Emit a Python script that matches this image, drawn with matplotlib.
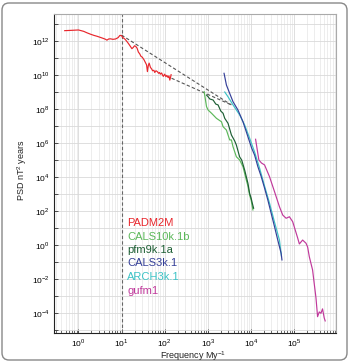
import matplotlib
matplotlib.use('Agg')
import matplotlib.pyplot as plt
import numpy as np
from matplotlib.patches import FancyBboxPatch
from matplotlib.ticker import FixedLocator, NullFormatter

plt.rcParams['font.family'] = ['Liberation Sans', 'DejaVu Sans']
plt.rcParams['mathtext.fontset'] = 'custom'
plt.rcParams['mathtext.rm'] = 'Liberation Sans'

# values as log10(frequency), log10(PSD)
padm_lx = [-0.32, -0.15, 0.0, 0.12, 0.2, 0.28, 0.36, 0.43, 0.5, 0.58, 0.63, 0.66, 0.70, 0.74,
           0.80, 0.86, 0.92, 0.96, 1.0, 1.02, 1.06, 1.09, 1.13, 1.16, 1.20, 1.24, 1.27, 1.30,
           1.33, 1.36, 1.39, 1.42, 1.45, 1.48, 1.52, 1.55, 1.58, 1.60, 1.62, 1.64, 1.67, 1.70,
           1.72, 1.75, 1.77, 1.80, 1.83, 1.86, 1.88, 1.90, 1.93, 1.95, 1.97, 2.00, 2.03, 2.05,
           2.08, 2.10, 2.12, 2.14, 2.15]
padm_ly = [12.61, 12.63, 12.65, 12.57, 12.48, 12.40, 12.33, 12.28, 12.22, 12.15, 12.10, 12.05,
           12.12, 12.13, 12.10, 12.12, 12.20, 12.33, 12.32, 12.22, 12.15, 12.08, 11.95, 11.85,
           11.70, 11.55, 11.62, 11.72, 11.68, 11.58, 11.35, 11.25, 11.10, 11.05, 10.90, 10.75,
           10.60, 10.20, 10.55, 10.70, 10.45, 10.35, 10.25, 10.28, 10.15, 10.25, 10.20, 10.10,
           10.15, 10.05, 10.12, 10.00, 9.92, 10.05, 9.90, 9.98, 9.85, 9.95, 9.70, 9.90, 10.02]

cals10k_lx = [2.917, 2.972, 3.009, 3.088, 3.203, 3.319, 3.356, 3.434, 3.510, 3.550, 3.587,
              3.665, 3.741, 3.818, 3.896, 3.933, 3.972, 4.007, 4.049]
cals10k_ly = [9.02, 8.14, 7.94, 7.75, 7.45, 7.25, 6.96, 6.76, 6.18, 6.18, 5.78,
              5.19, 5.00, 4.61, 3.82, 3.47, 2.94, 2.65, 2.06]

pfm9k_lx = [2.972, 3.009, 3.048, 3.125, 3.187, 3.240, 3.303, 3.356, 3.395, 3.471, 3.550,
            3.626, 3.665, 3.741, 3.788, 3.857, 3.933, 3.972, 4.007, 4.035, 4.065]
pfm9k_ly = [8.82, 8.72, 8.59, 8.53, 8.29, 8.24, 7.88, 7.75, 7.45, 7.16, 6.47,
            6.12, 5.88, 5.18, 5.00, 4.41, 3.63, 3.04, 2.76, 2.45, 2.16]

cals3k_lx = [3.379, 3.434, 3.510, 3.587, 3.702, 3.818, 3.933, 4.018, 4.088, 4.164, 4.242,
             4.319, 4.395, 4.473, 4.550, 4.626, 4.704, 4.723]
cals3k_ly = [10.10, 9.41, 8.92, 8.43, 7.94, 7.25, 6.37, 5.71, 5.29, 4.61, 4.02,
             3.35, 2.65, 1.86, 1.08, 0.29, -0.49, -0.88]

arch3k_lx = [3.395, 3.471, 3.587, 3.741, 3.857, 3.972, 4.088, 4.203, 4.319, 4.434, 4.550,
             4.665, 4.711]
arch3k_ly = [9.0, 8.72, 8.24, 7.65, 7.06, 6.29, 5.47, 4.53, 3.47, 2.47, 1.35, 0.29, -0.65]

gufm_lx = [4.111, 4.187, 4.249, 4.319, 4.434, 4.550, 4.665, 4.741, 4.820, 4.896, 4.972,
           5.088, 5.127, 5.203, 5.282, 5.319, 5.358, 5.434, 5.473, 5.513, 5.550, 5.589,
           5.628, 5.665, 5.704, 5.727]
gufm_ly = [6.22, 5.0, 4.82, 4.71, 4.02, 3.14, 2.25, 1.76, 1.57, 1.66, 1.37,
           0.41, 0.06, 0.29, 0.10, -0.12, -0.69, -1.47, -2.29, -3.12, -4.22, -3.94,
           -4.02, -3.76, -4.29, -4.47]

# dashed reference lines (log10 endpoints)
upper_lx = [1.0, 3.55]
upper_ly = [12.35, 8.24]
lower_lx = [2.16, 3.55]
lower_ly = [9.81, 8.24]
cut_freq = 10

x_decades = [0, 1, 2, 3, 4, 5]
y_decades = list(range(-5, 14))

series = [
    ('PADM2M', padm_lx, padm_ly, '#e8262c'),
    ('CALS10k.1b', cals10k_lx, cals10k_ly, '#5cb85a'),
    ('pfm9k.1a', pfm9k_lx, pfm9k_ly, '#1d5e34'),
    ('ARCH3k.1', arch3k_lx, arch3k_ly, '#3cc3c6'),
    ('CALS3k.1', cals3k_lx, cals3k_ly, '#343f98'),
    ('gufm1', gufm_lx, gufm_ly, '#c0399b'),
]
legend_order = ['PADM2M', 'CALS10k.1b', 'pfm9k.1a', 'CALS3k.1', 'ARCH3k.1', 'gufm1']
colors = {name: c for name, _, _, c in series}

fig = plt.figure(figsize=(3.53, 3.62), dpi=100)
ax = fig.add_axes([54 / 353, 29 / 362, 282 / 353, 319 / 362])

ax.axvline(cut_freq, color='#666666', linestyle='--', linewidth=0.8, dashes=(3, 2))
for lx, ly in [(upper_lx, upper_ly), (lower_lx, lower_ly)]:
    ax.plot(10 ** np.array(lx), 10 ** np.array(ly), color='#555555', linestyle='--',
            linewidth=0.8, dashes=(3, 2))

for name, lx, ly, c in series:
    ax.plot(10 ** np.array(lx), 10 ** np.array(ly), color=c, linewidth=0.85)

ax.set_xscale('log')
ax.set_yscale('log')
ax.set_xlim(0.27, 9.5e5)
ax.set_ylim(10 ** -5.18, 10 ** 13.59)

# explicit ticks
ax.set_xticks([10.0 ** e for e in x_decades])
ax.set_xticklabels([r'$10^{%d}$' % e for e in x_decades])
minor_x = [m * 10.0 ** e for e in range(-1, 6) for m in range(2, 10)]
ax.xaxis.set_minor_locator(FixedLocator(minor_x))
ax.xaxis.set_minor_formatter(NullFormatter())
ax.set_yticks([10.0 ** e for e in y_decades])
ax.set_yticklabels([r'$10^{%d}$' % e if e % 2 == 0 else '' for e in y_decades])
ax.yaxis.set_minor_locator(FixedLocator([]))
ax.set_xlim(0.27, 9.5e5)
ax.set_ylim(10 ** -5.18, 10 ** 13.59)

ax.tick_params(axis='both', which='both', direction='in', labelsize=6, color='#333333')
ax.tick_params(axis='both', which='major', length=3, width=0.6)
ax.tick_params(axis='x', which='minor', length=2, width=0.5)
ax.tick_params(axis='x', pad=3)
ax.tick_params(axis='y', pad=3)

ax.grid(True, which='major', color='#d9d9d9', linewidth=0.6)
ax.grid(True, which='minor', axis='x', color='#e6e6e6', linewidth=0.5)
ax.set_axisbelow(True)

for s in ['top', 'right']:
    ax.spines[s].set_color('#aaaaaa')
for s in ['left', 'bottom']:
    ax.spines[s].set_color('#222222')
    ax.spines[s].set_linewidth(0.8)

fig.text(22 / 353, 1 - 170 / 362, 'PSD nT$^2$ years', rotation=90, fontsize=6.5,
         ha='center', va='center', color='#222222')
fig.text(193 / 353, 1 - 356 / 362, 'Frequency My$^{-1}$', fontsize=6.5,
         ha='center', va='center', color='#222222')

for i, name in enumerate(legend_order):
    fig.text(127 / 353, 1 - (223 + 13.5 * i) / 362, name, fontsize=8, color=colors[name],
             ha='left', va='center')

border = FancyBboxPatch((2 / 353, 2 / 362), 345 / 353, 357 / 362,
                        boxstyle='round,pad=0,rounding_size=0.02',
                        transform=fig.transFigure, fill=False, edgecolor='#888888',
                        linewidth=1.0)
fig.patches.append(border)

fig.savefig('out.png', dpi=100)
